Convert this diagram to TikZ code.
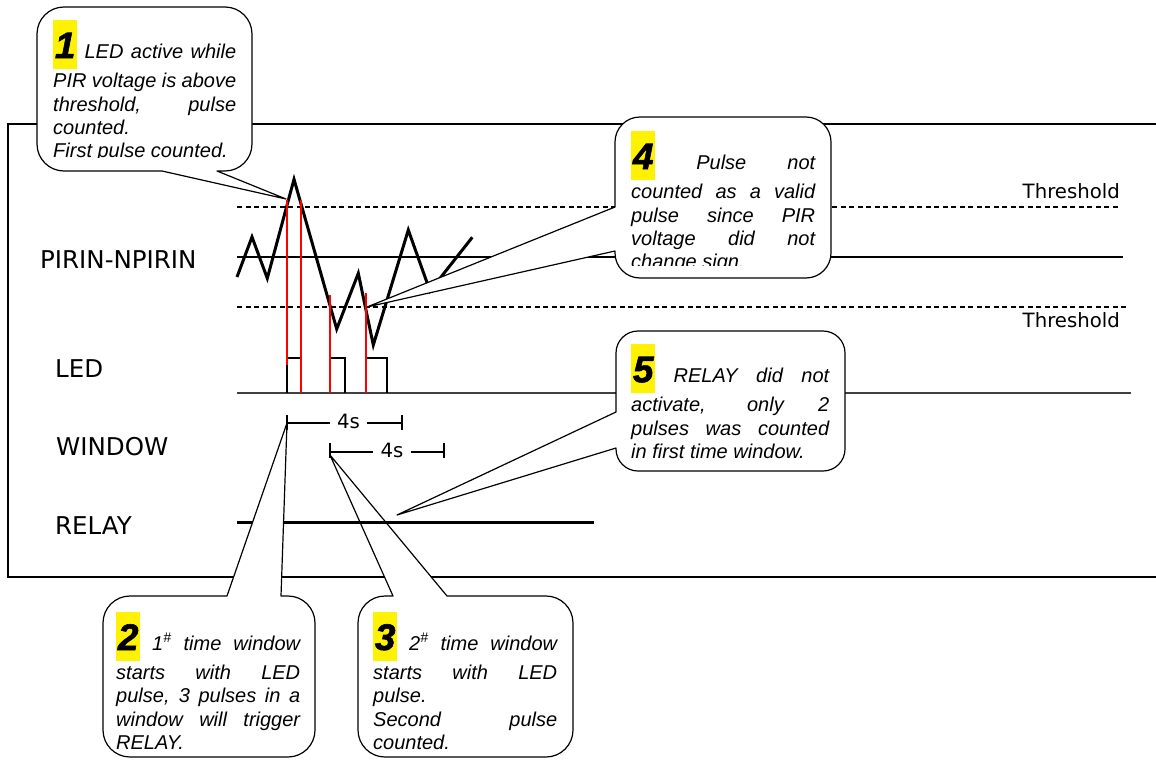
\documentclass[tikz,border=0pt]{standalone}
\usepackage{fontspec}
\setmainfont{Liberation Sans}
\newfontfamily\vfont{DejaVu Sans}
\newfontface\numfont{Liberation Sans Bold Italic}[FakeBold=1.5]
\newcommand\nbox[1]{\smash{\rlap{\textcolor{yellow}{\rule[-11pt]{24pt}{49pt}}}\makebox[24pt][c]{\fontsize{37}{37}\selectfont\numfont #1}}}
\newcommand\cjust[2]{\makebox[#1][s]{\strut #2}}
\newcommand\cleft[1]{\strut #1}
\begin{document}
\begin{tikzpicture}[x=1pt,y=-1pt,
  framel/.style={line width=2pt},
  thr/.style={line width=1.3pt, dash pattern=on 5pt off 3.5pt},
  midline/.style={line width=1.3pt},
  pir/.style={line width=3pt, line join=miter, miter limit=10},
  ledpulse/.style={line width=2.5pt},
  redl/.style={red, line width=1.3pt},
  ledbase/.style={line width=1.5pt, black!75},
  relayl/.style={line width=3pt},
  winl/.style={line width=1.3pt},
  bubble/.style={draw=black, fill=white, line width=1.2pt, line join=round},
  lbl/.style={font=\vfont\fontsize{24.5}{28}\selectfont, anchor=base west, inner sep=0pt},
  smalllbl/.style={font=\vfont\fontsize{19.7}{24}\selectfont, inner sep=0pt},
  ctext/.style={anchor=north west, inner sep=0pt, align=left, font=\fontsize{20}{23.3}\selectfont\itshape}]
\useasboundingbox (0,0) rectangle (1156,760);
\fill[white] (0,0) rectangle (1156,760);

% frame
\draw[framel] (1156,124) -- (8,124) -- (8,577) -- (1156,577);

% thresholds and zero line
\draw[thr] (237,207) -- (1120,207);
\draw[thr] (237,307) -- (1128,307);
\draw[midline] (237,257) -- (1123,257);
\node[smalllbl, anchor=base east] (th1) at (1120,198) {Threshold};
\node[smalllbl, anchor=base east] (th2) at (1120,327) {Threshold};

% labels
\node[lbl] (lpir) at (40,268) {PIRIN-NPIRIN};
\node[lbl] (lled) at (55,377) {LED};
\node[lbl] (lwin) at (56,455) {WINDOW};
\node[lbl] (lrel) at (55,534) {RELAY};

% PIR waveform
\draw[pir] (237,277) -- (252,237) -- (267.3,278.3) -- (294,179.3) -- (336.7,329) -- (358.3,273.3) -- (373.3,345) -- (408.3,230) -- (430,291) -- (472.3,237.3);

% LED
\draw[ledbase] (237,393) -- (1131,393);
\draw[ledpulse] (287,393) -- (287,358) -- (301,358) -- (301,393);
\draw[ledpulse] (330,393) -- (330,358) -- (345,358) -- (345,393);
\draw[ledpulse] (366,393) -- (366,358) -- (387,358) -- (387,393);
\draw[redl] (287,200) -- (287,365);
\draw[redl] (301,200) -- (301,393);
\draw[redl] (330,295) -- (330,393);
\draw[redl] (366,293) -- (366,393);

% windows
\coordinate (w1s) at (287,423);
\coordinate (w1e) at (402,423);
\node[smalllbl, anchor=base, inner xsep=7pt] (w1t) at (348.5,428) {4s};
\draw[winl] (w1s) -- (w1t.west |- w1s);
\draw[winl] (w1t.east |- w1e) -- (w1e);
\draw[winl] (w1s) ++(0,-8) -- ++(0,15);
\draw[winl] (w1e) ++(0,-8) -- ++(0,15);
\coordinate (w2s) at (330,452);
\coordinate (w2e) at (444,452);
\node[smalllbl, anchor=base, inner xsep=7pt] (w2t) at (392,457) {4s};
\draw[winl] (w2s) -- (w2t.west |- w2s);
\draw[winl] (w2t.east |- w2e) -- (w2e);
\draw[winl] (w2s) ++(0,-9) -- ++(0,15);
\draw[winl] (w2e) ++(0,-9) -- ++(0,15);

% callout 3
\draw[bubble] (450,757) [rounded corners=27pt] -- (358,757) -- (358,596) [sharp corners] -- (393,596) -- (330,455) -- (447,596) [rounded corners=27pt] -- (573,596) -- (573,757) -- cycle;
\node[ctext] (c3) at (373,632.7) {\cjust{184pt}{\nbox{3} 2\textsuperscript{\#} time window}\\[6.2pt]
\cjust{184pt}{starts with LED}\\
\cleft{pulse.}\\
\cjust{184pt}{Second pulse}\\
\cleft{counted.}};

% relay
\coordinate (r0) at (237,522);
\coordinate (r1) at (594,522);
\draw[relayl] (r0) -- (r1);

% callout 1
\draw[bubble] (100,171) [rounded corners=27pt] -- (37,171) -- (37,7) -- (252,7) -- (252,171) [sharp corners] -- (217,171) -- (286,199) -- (162,171) -- cycle;
\begin{scope}
\clip (37,7) rectangle (252,157.5);
\node[ctext] (c1) at (53,41.7) {\cjust{183pt}{\nbox{1} LED active while}\\[6.2pt]
\cjust{183pt}{PIR voltage is above}\\
\cjust{183pt}{threshold, pulse}\\
\cleft{counted.}\\
\cleft{First pulse counted.}};
\end{scope}

% callout 2
\draw[bubble] (200,757) [rounded corners=27pt] -- (103,757) -- (103,596) [sharp corners] -- (227,596) -- (287,423) -- (281,596) [rounded corners=27pt] -- (315,596) -- (315,757) -- cycle;
\node[ctext] (c2) at (116,632.7) {\cjust{184pt}{\nbox{2} 1\textsuperscript{\#} time window}\\[6.2pt]
\cjust{184pt}{starts with LED}\\
\cjust{184pt}{pulse, 3 pulses in a}\\
\cjust{184pt}{window will trigger}\\
\cleft{RELAY.}};

% callout 4
\draw[bubble] (615,180) [rounded corners=25pt] -- (615,117) -- (831,117) -- (831,278) -- (615,278) [sharp corners] -- (615,251) -- (367,307) -- (615,207) -- cycle;
\begin{scope}
\clip (615,117) rectangle (831,265);
\node[ctext] (c4) at (631,152.7) {\cjust{184pt}{\nbox{4} Pulse not}\\[6.2pt]
\cjust{184pt}{counted as a valid}\\
\cjust{184pt}{pulse since PIR}\\
\cjust{184pt}{voltage did not}\\
\cleft{change sign.}};
\end{scope}

% callout 5
\draw[bubble] (616,380) [rounded corners=22pt] -- (616,331) -- (845,331) -- (845,471) -- (616,471) [sharp corners] -- (616,448) -- (397,515) -- (616,412) -- cycle;
\node[ctext] (c5) at (631,365.7) {\cjust{198pt}{\nbox{5} RELAY did not}\\[6.2pt]
\cjust{198pt}{activate, only 2}\\
\cjust{198pt}{pulses was counted}\\
\cleft{in first time window.}};
\end{tikzpicture}
\end{document}
